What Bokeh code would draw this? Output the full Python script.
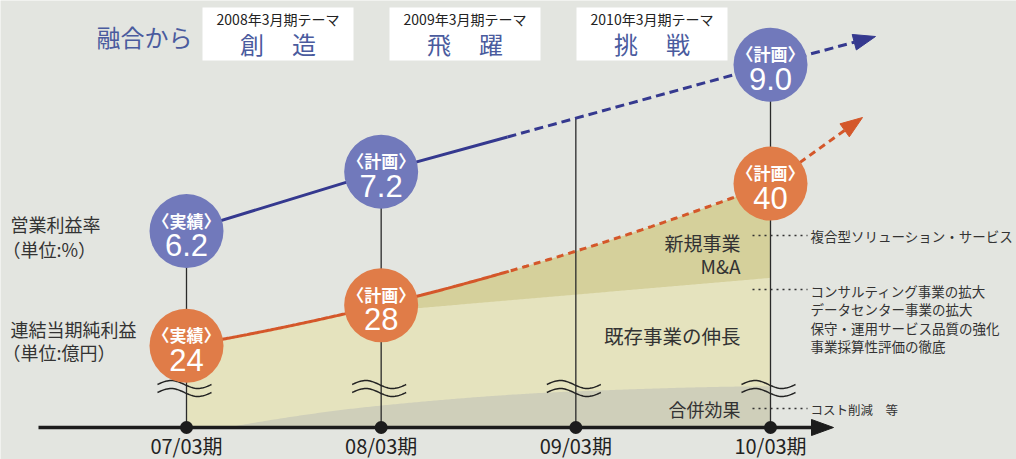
import numpy as np
from bokeh.plotting import figure
from bokeh.models import Range1d
from bokeh.core.properties import value
from bokeh.embed import file_html
from bokeh.resources import INLINE

# ---------------- data ----------------
periods = ["07/03期", "08/03期", "09/03期", "10/03期"]
margin_status = ["〈実績〉", "〈計画〉", None, "〈計画〉"]
margin_values = [6.2, 7.2, None, 9.0]          # 営業利益率（%）
income_status = ["〈実績〉", "〈計画〉", None, "〈計画〉"]
income_values = [24, 28, None, 40]             # 連結当期純利益（億円）
existing_growth = [None, 27.4, None, 30.7]     # 既存事業の伸長 (upper edge)
merger_effect = [15.2, 18.1, 19.5, 20.0]       # 合併効果 (upper edge)
theme_years = ["2008年3月期テーマ", "2009年3月期テーマ", "2010年3月期テーマ"]
theme_words = [("創", "造"), ("飛", "躍"), ("挑", "戦")]
new_biz_items = ["複合型ソリューション・サービス"]
existing_items = ["コンサルティング事業の拡大", "データセンター事業の拡大",
                  "保守・運用サービス品質の強化", "事業採算性評価の徹底"]
merger_items = ["コスト削減　等"]

# ---------------- layout / style ----------------
W, H = 1016, 459
BG = "#e3e5e0"
BLUE_CIRCLE = "#7179bb"
ORANGE_CIRCLE = "#e07c48"
BLUE_LINE = "#35398f"
ORANGE_LINE = "#d4572a"
LIGHT = "#e5e3be"
DARK = "#d5d09b"
GRAY = "#cfcfba"
THEME_BLUE = "#4a5b9e"
INK = "#333333"
JP = "Noto Sans CJK JP"
NUM = "Liberation Sans"

X0_PX, DX_PX = 186.0, 194.667
M_REF, M_PX, M_K = 7.467, 155.3, 59.42
I_REF, I_PX, I_K = 30.667, 277.7, 10.134
AXIS_PX = 427


def m_at(py):
    return M_REF + (M_PX - py) / M_K


def i_at(py):
    return I_REF + (I_PX - py) / I_K


def idx_at(px):
    return (px - X0_PX) / DX_PX


def pchip(x, y, xs):
    x = np.asarray(x, float)
    y = np.asarray(y, float)
    h = np.diff(x)
    dl = np.diff(y) / h
    n = len(x)
    d = np.zeros(n)
    for k in range(1, n - 1):
        if dl[k - 1] * dl[k] > 0:
            w1 = 2 * h[k] + h[k - 1]
            w2 = h[k] + 2 * h[k - 1]
            d[k] = (w1 + w2) / (w1 / dl[k - 1] + w2 / dl[k])

    def end(h0, h1, d0, d1):
        dd = ((2 * h0 + h1) * d0 - h0 * d1) / (h0 + h1)
        if np.sign(dd) != np.sign(d0):
            dd = 0.0
        elif np.sign(d0) != np.sign(d1) and abs(dd) > abs(3 * d0):
            dd = 3 * d0
        return dd

    d[0] = end(h[0], h[1], dl[0], dl[1])
    d[-1] = end(h[-1], h[-2], dl[-1], dl[-2])
    k = np.clip(np.searchsorted(x, xs) - 1, 0, n - 2)
    t = (xs - x[k]) / h[k]
    h00 = 2 * t**3 - 3 * t**2 + 1
    h10 = t**3 - 2 * t**2 + t
    h01 = -2 * t**3 + 3 * t**2
    h11 = t**3 - t**2
    return h00 * y[k] + h10 * h[k] * d[k] + h01 * y[k + 1] + h11 * h[k] * d[k + 1]


p = figure(width=W, height=H,
           x_range=Range1d(idx_at(0), idx_at(W)), y_range=Range1d(H, 0),
           toolbar_location=None, output_backend="svg",
           x_axis_location=None, y_axis_location=None, min_border=0,
           background_fill_color=BG, border_fill_color=BG, outline_line_color=None)
p.extra_x_ranges = {"px": Range1d(0, W)}
p.extra_y_ranges = {"margin": Range1d(m_at(H), m_at(0)),
                    "income": Range1d(i_at(H), i_at(0))}
p.xgrid.visible = False
p.ygrid.visible = False


def txt(x, y, s, size, color=INK, align="left", font=JP, style="normal", **kw):
    p.text(x=[x], y=[y], text=[s], text_font=value(font), text_font_size=size,
           text_color=color, text_align=align, text_baseline="middle",
           text_font_style=style, **kw)


idx = np.arange(len(periods))
last = float(idx[-1])

# ---- series ----
inc_x = [i for i, v in zip(idx, income_values) if v is not None]
inc_v = [v for v in income_values if v is not None]
coef = np.polyfit(inc_x, inc_v, 2)
xs = np.linspace(0, last, 300)
orange = np.polyval(coef, xs)
axis_v = i_at(AXIS_PX)

ex_x = [i for i, v in zip(idx, existing_growth) if v is not None]
ex_v = [v for v in existing_growth if v is not None]
wedge = np.minimum(np.polyval(np.polyfit(ex_x, ex_v, 1), xs), orange)
gray_top = np.maximum(pchip(idx, merger_effect, xs), axis_v)

p.varea(x=xs, y1=axis_v, y2=orange, fill_color=LIGHT, y_range_name="income")
p.varea(x=xs, y1=wedge, y2=orange, fill_color=DARK, y_range_name="income")
p.varea(x=xs, y1=axis_v, y2=gray_top, fill_color=GRAY, y_range_name="income")

# vertical guide lines
mar_x = [i for i, v in zip(idx, margin_values) if v is not None]
mar_v = [v for v in margin_values if v is not None]
blue_at = np.interp(idx, mar_x, mar_v)
p.segment(x0=idx, x1=idx, y0=blue_at, y1=m_at(AXIS_PX), line_color="#2a2a2a",
          line_width=1.3, y_range_name="margin")

# orange line (solid then dashed)
split_o = idx_at(510)
so = xs <= split_o
p.line(xs[so], orange[so], line_color=ORANGE_LINE, line_width=3, y_range_name="income")
p.line(xs[xs >= split_o], orange[xs >= split_o], line_color=ORANGE_LINE, line_width=3,
       line_dash="7 5", y_range_name="income")

# blue line (solid then dashed)
split_b = idx_at(507)
bx_solid = [0.0, 1.0, split_b]
p.line(bx_solid, np.interp(bx_solid, mar_x, mar_v), line_color=BLUE_LINE, line_width=3,
       y_range_name="margin")
bx_dash = [split_b, last]
p.line(bx_dash, np.interp(bx_dash, mar_x, mar_v), line_color=BLUE_LINE, line_width=3,
       line_dash="9 5", y_range_name="margin")


# arrow extensions (pixel layout)
def arrow(start, tip, color, dash):
    sx, sy = start
    tx, ty = tip
    dx, dy = tx - sx, ty - sy
    L = np.hypot(dx, dy)
    ux, uy = dx / L, dy / L
    bx, by = tx - 22 * ux, ty - 22 * uy
    p.line([sx, bx], [sy, by], line_color=color, line_width=3, line_dash=dash,
           x_range_name="px")
    nx, ny = -uy, ux
    p.patch([tx, bx + 8 * nx, bx - 8 * nx], [ty, by + 8 * ny, by - 8 * ny],
            fill_color=color, line_color=color, x_range_name="px")


cx_last = X0_PX + DX_PX * last
arrow((cx_last, M_PX - (margin_values[-1] - M_REF) * M_K), (875, 36), BLUE_LINE, "9 5")
arrow((cx_last, I_PX - (income_values[-1] - I_REF) * I_K), (862, 117), ORANGE_LINE, "7 5")

# break marks
t = np.linspace(0, 1, 40)
wx, wy = [], []
for i in idx:
    cx = X0_PX + DX_PX * i
    for yc in (384, 392):
        wx.append(list(cx - 29 + 54 * t))
        wy.append(list(yc - 4 * np.sin(2 * np.pi * t)))
p.multi_line(wx, wy, line_color="#222222", line_width=1.5, x_range_name="px")

# time axis
p.line([38, 815], [AXIS_PX, AXIS_PX], line_color="#1c1c1c", line_width=3.5, x_range_name="px")
p.patch([811, 833, 811], [AXIS_PX - 8, AXIS_PX, AXIS_PX + 8], fill_color="#1c1c1c",
        line_color="#1c1c1c", x_range_name="px")
p.scatter(idx, [AXIS_PX] * len(idx), size=13, fill_color="#1c1c1c", line_color=None)
p.text(x=idx, y=[445] * len(idx), text=periods, text_font=value(JP), text_font_size="20px",
       text_color="#222222", text_align="center", text_baseline="middle")

# circles
p.scatter(mar_x, mar_v, size=74, fill_color=BLUE_CIRCLE, line_color=None, y_range_name="margin")
p.scatter(inc_x, inc_v, size=74, fill_color=ORANGE_CIRCLE, line_color=None, y_range_name="income")
for i, v, s in zip(idx, margin_values, margin_status):
    if v is None:
        continue
    txt(i, v + 11 / M_K, s, "17px", color="white", style="bold", align="center", y_range_name="margin")
    txt(i, v - 14 / M_K, f"{v:.1f}", "31px", color="white", align="center", font=NUM,
        y_range_name="margin")
for i, v, s in zip(idx, income_values, income_status):
    if v is None:
        continue
    txt(i, v + 11 / I_K, s, "17px", color="white", style="bold", align="center", y_range_name="income")
    txt(i, v - 14 / I_K, f"{v}", "31px", color="white", align="center", font=NUM,
        y_range_name="income")

# left labels
txt(10, 223, "営業利益率", "18px", x_range_name="px")
txt(2, 248, "（単位:%）", "18px", x_range_name="px")
txt(10, 328, "連結当期純利益", "18px", x_range_name="px")
txt(2, 351, "（単位:億円）", "18px", x_range_name="px")

# top themes
txt(144, 36, "融合から", "24px", color=THEME_BLUE, align="center", x_range_name="px")
box_left = [202, 389, 576]
for bl, yr, (w1, w2) in zip(box_left, theme_years, theme_words):
    p.quad(left=[bl], right=[bl + 151], top=[7], bottom=[60], fill_color="white",
           line_color=None, x_range_name="px")
    c = bl + 75.5
    txt(c, 18, yr, "14px", color="#222222", align="center", x_range_name="px")
    txt(c - 26, 43, w1, "24px", color=THEME_BLUE, align="center", x_range_name="px")
    txt(c + 26, 43, w2, "24px", color=THEME_BLUE, align="center", x_range_name="px")

# labels inside areas
txt(740, 242, "新規事業", "19px", align="right", x_range_name="px")
txt(740, 265, "M&A", "19px", align="right", x_range_name="px")
txt(740, 335, "既存事業の伸長", "19.5px", align="right", x_range_name="px")
txt(740, 408, "合併効果", "18px", align="right", x_range_name="px")

# right-hand notes
for yy in (235, 289, 408):
    p.line([752, 807], [yy, yy], line_color=INK, line_width=1.6, line_dash="2 4",
           x_range_name="px")
for k, s in enumerate(new_biz_items):
    txt(810, 235 + 18.5 * k, s, "13.5px", x_range_name="px")
for k, s in enumerate(existing_items):
    txt(810, 290 + 18.5 * k, s, "13.5px", x_range_name="px")
for k, s in enumerate(merger_items):
    txt(810, 409 + 18.5 * k, s, "12.5px", x_range_name="px")

open("out.html", "w").write(file_html(p, INLINE))
